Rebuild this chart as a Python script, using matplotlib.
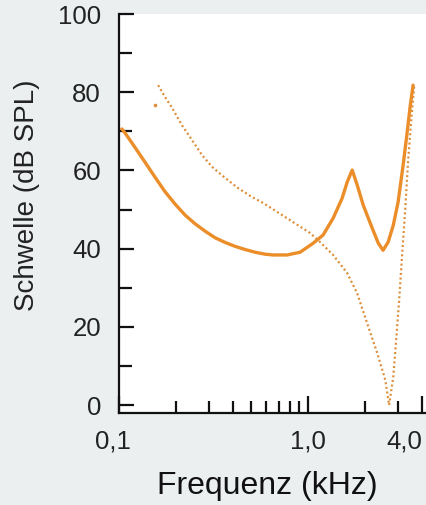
import numpy as np
import matplotlib
matplotlib.use("Agg")
import matplotlib.pyplot as plt
from matplotlib.ticker import FixedLocator, FixedFormatter, NullFormatter

plt.rcParams['font.family'] = ['Liberation Sans', 'DejaVu Sans']

# solid curve (threshold, kHz / dB SPL)
solid_f = [0.1035, 0.1076, 0.1215, 0.1373, 0.155, 0.175, 0.198, 0.2235, 0.252, 0.285,
           0.322, 0.364, 0.411, 0.464, 0.524, 0.592, 0.653, 0.774, 0.907, 1.063,
           1.20, 1.356, 1.513, 1.608, 1.71, 1.817, 1.954, 2.18, 2.35, 2.49,
           2.65, 2.82, 2.99, 3.18, 3.34, 3.47, 3.59]
solid_db = [70.6, 69.6, 65.9, 62.1, 58.3, 54.6, 51.4, 48.6, 46.4, 44.5,
            42.8, 41.6, 40.6, 39.8, 39.1, 38.6, 38.4, 38.4, 39.1, 41.4,
            43.5, 47.8, 52.9, 57.0, 60.1, 56.3, 51.2, 45.3, 41.4, 39.6,
            41.7, 46.0, 51.9, 61.4, 69.8, 76.7, 81.8]

# dotted curve
dot_f = [0.161, 0.175, 0.191, 0.215, 0.243, 0.275, 0.311, 0.364, 0.426, 0.505,
         0.578, 0.686, 0.833, 1.025, 1.157, 1.356, 1.608, 1.817, 2.05, 2.32,
         2.56, 2.68, 2.82, 2.92, 3.03, 3.14, 3.26, 3.38, 3.51, 3.64]
dot_db = [81.8, 78.8, 76.0, 71.6, 67.8, 63.9, 60.9, 58.1, 55.5, 53.2,
          51.7, 49.4, 46.8, 44.0, 41.7, 38.4, 33.8, 28.6, 21.0, 13.3,
          6.4, 0.0, 7.2, 16.6, 26.9, 38.4, 49.9, 62.7, 72.9, 81.8]

# stray dot near the start of the dotted curve
stray_f = [0.155]
stray_db = [76.7]

major_x = [0.1, 1.0, 4.0]
major_x_labels = ['0,1', '1,0', '4,0']
minor_x = [0.2, 0.3, 0.4, 0.5, 0.6, 0.7, 0.8, 0.9, 2.0, 3.0]
major_y = [0, 20, 40, 60, 80, 100]
minor_y = [10, 30, 50, 70, 90]

orange = '#EB8E2A'
dot_orange = '#DC8E3A'

fig = plt.figure(figsize=(4.26, 5.05), dpi=100, facecolor='#EBEFEF')
ax = fig.add_axes([119 / 426, 92 / 505, 1 - 119 / 426, 399 / 505])
ax.set_facecolor('white')

ax.plot(solid_f, solid_db, color=orange, lw=2.4, solid_capstyle='round',
        solid_joinstyle='round')
ax.plot(dot_f, dot_db, color=dot_orange, lw=1.6, linestyle=(0, (0.9, 1.2)))
ax.plot(stray_f, stray_db, 'o', color=dot_orange, ms=1.6)

ax.set_xscale('log')
ax.set_xlim(0.1, 4.2)
ax.set_ylim(-2, 100)

# first label is drawn separately, a bit left of the axis corner
ax.xaxis.set_major_locator(FixedLocator(major_x))
ax.xaxis.set_major_formatter(FixedFormatter([''] + major_x_labels[1:]))
ax.xaxis.set_minor_locator(FixedLocator(minor_x))
ax.xaxis.set_minor_formatter(NullFormatter())
ax.yaxis.set_major_locator(FixedLocator(major_y))
ax.yaxis.set_minor_locator(FixedLocator(minor_y))

for s in ['top', 'right']:
    ax.spines[s].set_visible(False)
for s in ['left', 'bottom']:
    ax.spines[s].set_linewidth(1.6)
    ax.spines[s].set_color('#111111')

ax.tick_params(axis='both', which='both', direction='in', width=1.6, color='#111111',
               labelsize=18.5, labelcolor='#222222')
ax.tick_params(axis='y', which='major', length=11, pad=13)
ax.tick_params(axis='y', which='minor', length=9)
ax.tick_params(axis='x', which='major', length=12, pad=12)
ax.tick_params(axis='x', which='minor', length=8.5)

ax.annotate(major_x_labels[0], xy=(major_x[0], 0), xycoords=('data', 'axes fraction'),
            xytext=(-4.5, -12), textcoords='offset points', ha='center', va='top',
            fontsize=18.5, color='#222222', annotation_clip=False)

fig.canvas.draw()
ax.get_xticklabels()[-1].set_horizontalalignment('right')

ax.set_xlabel('Frequenz (kHz)', fontsize=23, color='#111111')
ax.xaxis.set_label_coords(0.482, -0.145)
ax.set_ylabel('Schwelle (dB SPL)', fontsize=20, color='#222222')
ax.yaxis.set_label_coords(-0.258, 0.545)

fig.savefig('out.png', dpi=100, facecolor=fig.get_facecolor())
